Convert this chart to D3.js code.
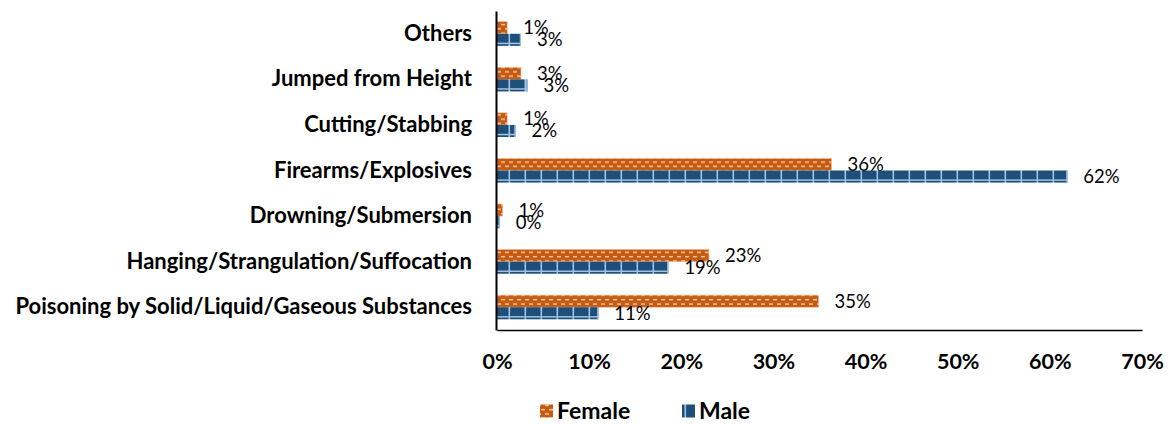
<!DOCTYPE html>
<html>
<head>
<meta charset="utf-8">
<script src="https://cdn.jsdelivr.net/npm/d3@7"></script>
<style>
  html, body { margin: 0; padding: 0; background: #fff; }
  svg { display: block; }
  .cat { font-family: Lato, "Open Sans", sans-serif; font-weight: 700; font-size: 22px; fill: #000; }
  .tick-label { font-family: Lato, "Open Sans", sans-serif; font-weight: 700; font-size: 21.5px; fill: #000; }
  .val { font-family: Lato, "Open Sans", sans-serif; font-size: 18.5px; fill: #000; }
  .legend { font-family: Lato, "Open Sans", sans-serif; font-weight: 700; font-size: 23px; fill: #000; }
</style>
</head>
<body>
<svg id="chart" width="1168" height="424"></svg>
<script>
// Methods, listed top to bottom
const categories = [
  "Others",
  "Jumped from Height",
  "Cutting/Stabbing",
  "Firearms/Explosives",
  "Drowning/Submersion",
  "Hanging/Strangulation/Suffocation",
  "Poisoning by Solid/Liquid/Gaseous Substances"
];
// Share of each sex's cases, in percent
const femaleValues = [1.1, 2.6, 1.1, 36.3, 0.6, 23.0, 34.9];
const maleValues   = [2.6, 3.3, 2.0, 61.9, 0.3, 18.6, 11.0];
const seriesNames  = ["Female", "Male"];
const tickValues   = [0, 10, 20, 30, 40, 50, 60, 70];

const svg = d3.select("#chart");
const margin = { left: 497, right: 26, top: 11, bottom: 94 };
const W = 1168, H = 424;

const x = d3.scaleLinear().domain([0, 70]).range([margin.left, W - margin.right]);
const y = d3.scaleBand().domain(categories).range([margin.top, H - margin.bottom]).paddingInner(0.47).paddingOuter(0.235);
const sub = d3.scaleBand().domain(seriesNames).range([0, y.bandwidth()]);

// Fill patterns: orange brick for Female, blue grid for Male
const defs = svg.append("defs");
const fp = defs.append("pattern").attr("id", "femalePat")
  .attr("patternUnits", "userSpaceOnUse").attr("width", 8).attr("height", 8.6);
fp.append("rect").attr("width", 8).attr("height", 8.6).attr("fill", "#C55A11");
fp.append("rect").attr("x", 1).attr("y", 2.3).attr("width", 4).attr("height", 1.4).attr("fill", "#F8CBAD");
fp.append("rect").attr("x", 5).attr("y", 6.6).attr("width", 4).attr("height", 1.4).attr("fill", "#F8CBAD");
fp.append("rect").attr("x", -3).attr("y", 6.6).attr("width", 4).attr("height", 1.4).attr("fill", "#F8CBAD");

const mp = defs.append("pattern").attr("id", "malePat")
  .attr("patternUnits", "userSpaceOnUse").attr("width", 16).attr("height", 46);
mp.append("rect").attr("width", 16).attr("height", 46).attr("fill", "#1F4E79");
mp.append("rect").attr("x", 12.5).attr("y", 0).attr("width", 1.6).attr("height", 46).attr("fill", "#9DC3E6");

const rows = categories.map((c, i) => ({ cat: c, Female: femaleValues[i], Male: maleValues[i] }));

const g = svg.append("g");
rows.forEach(r => {
  seriesNames.forEach(s => {
    const v = r[s];
    const y0 = y(r.cat) + sub(s);
    const h = sub.bandwidth();
    const bar = g.append("rect")
      .attr("x", x(0))
      .attr("y", y0)
      .attr("width", x(v) - x(0))
      .attr("height", h)
      .attr("fill", s === "Female" ? "url(#femalePat)" : "url(#malePat)");
    if (s === "Male") {
      // light rule near the bottom edge and right edge of the blue bar
      g.append("rect").attr("x", x(0)).attr("y", y0 + h - 3.2)
        .attr("width", x(v) - x(0)).attr("height", 1.5).attr("fill", "#9DC3E6");
      g.append("rect").attr("x", x(v) - 1.2).attr("y", y0)
        .attr("width", 1.2).attr("height", h).attr("fill", "#9DC3E6");
    } else {
      bar.attr("stroke", "#F4B183").attr("stroke-width", 0.6);
    }
    g.append("text").attr("class", "val")
      .attr("x", x(v) + 16)
      .attr("y", y0 + h / 2)
      .attr("dy", "0.35em")
      .text(d3.format(".0f")(v) + "%");
  });
});

// Axes
const xAxis = d3.axisBottom(x).tickValues(tickValues).tickSize(0).tickFormat(d => d + "%");
const xa = svg.append("g").attr("transform", `translate(0,${H - margin.bottom})`).call(xAxis);
xa.select(".domain").attr("stroke", "#000").attr("stroke-width", 1.6);
xa.selectAll("text").attr("class", "tick-label").attr("dy", null).attr("y", 39).attr("font-family", null).attr("font-size", null);

const yAxis = d3.axisLeft(y).tickSize(0).tickPadding(24);
const ya = svg.append("g").attr("transform", `translate(${margin.left - 1},0)`).call(yAxis);
ya.select(".domain").attr("stroke", "#000").attr("stroke-width", 2);
ya.selectAll("text").attr("class", "cat").attr("font-family", null).attr("font-size", null);

// Legend
const legend = svg.append("g").attr("transform", "translate(0,411)");
const items = [
  { name: "Female", sx: 540, fill: "url(#femalePat)" },
  { name: "Male", sx: 682, fill: "url(#malePat)" }
];
items.forEach(it => {
  legend.append("rect").attr("x", it.sx).attr("y", -6.5).attr("width", 13).attr("height", 13).attr("fill", it.fill);
  legend.append("text").attr("class", "legend").attr("x", it.sx + 17).attr("y", 0).attr("dy", "0.35em").text(it.name);
});
</script>
</body>
</html>
